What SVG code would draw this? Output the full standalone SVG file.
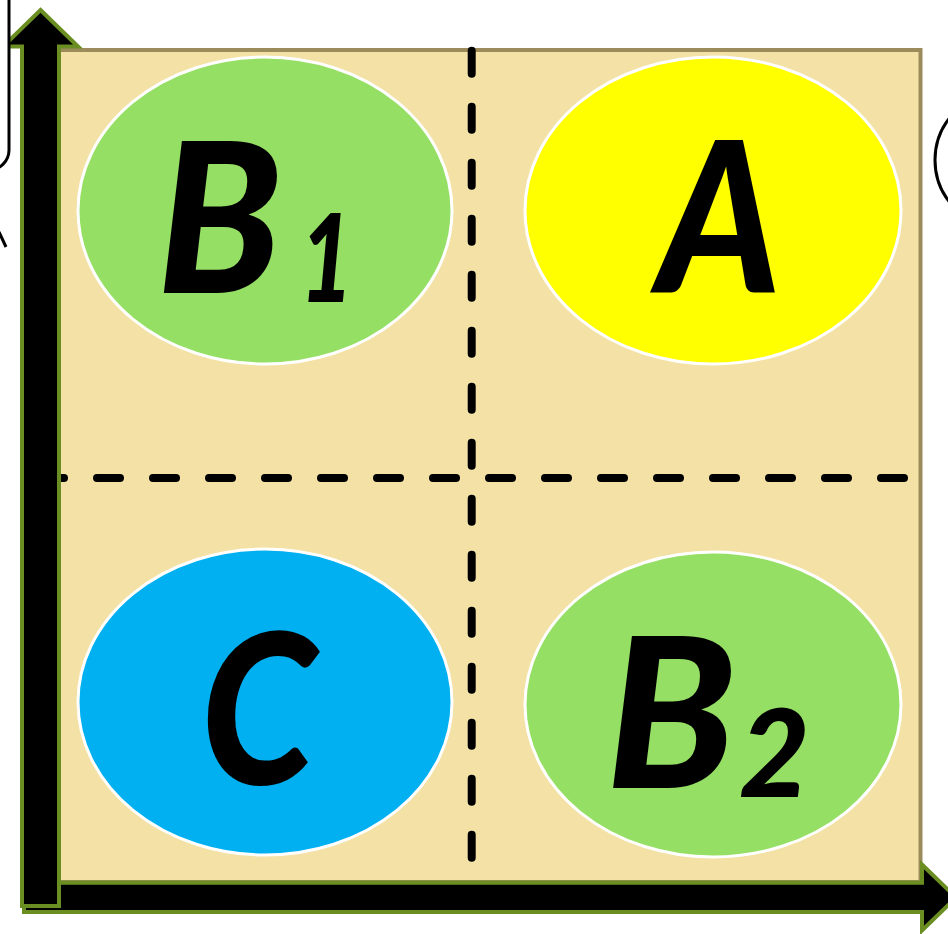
<svg xmlns="http://www.w3.org/2000/svg" width="948" height="934" viewBox="0 0 948 934">
<style>
.ell{stroke:#ffffff;stroke-width:3}
.green{fill:#95df64}
.arrow{fill:#000000;stroke:#6b8e23;stroke-width:4;stroke-linejoin:miter}
.dash{fill:none;stroke:#000000;stroke-width:8;stroke-linecap:round;stroke-dasharray:23 33}
.lbl{font-family:"Lato","Roboto","Liberation Sans",sans-serif;font-weight:900;font-style:italic;fill:#000000}
.big{font-size:210px}
.sub{font-size:122px}
.edge{fill:#ffffff;stroke:#000000;stroke-width:3}
</style>
<rect width="948" height="934" fill="#ffffff"/>
<g id="plane">
<rect x="59" y="50" width="861.5" height="832" fill="#f3e1a5" stroke="#9c8b5b" stroke-width="4"/>
</g>
<g id="connectors">
<path class="dash" d="M 41 478 H 904"/>
<path class="dash" d="M 471.7 50.7 V 858"/>
<path id="x-axis" class="arrow" d="M 24 882.7 L 922 882.7 L 922 864.5 L 956 897.5 L 922 930.5 L 922 912 L 24 912 Z"/>
<path id="y-axis" class="arrow" d="M 40.5 10 L 78 46.5 L 59 46.5 L 59 906 L 22 906 L 22 46.5 L 3 46.5 Z"/>
</g>
<g id="edge-shapes">
<rect class="edge" x="-60" y="-20" width="69" height="190" rx="20"/>
<line x1="-1" y1="232" x2="6" y2="247" stroke="#000000" stroke-width="3"/>
<circle class="edge" cx="1003" cy="160" r="68"/>
</g>
<g id="node-B1">
<ellipse class="ell green" cx="265" cy="210.5" rx="187" ry="153.5"/>
<text class="lbl big" x="157" y="293" transform="translate(157,0) scale(0.96,1) translate(-157,0)">B</text>
<text class="lbl sub" transform="translate(300,302) scale(0.75,1)">1</text>
</g>
<g id="node-A">
<ellipse class="ell" fill="#ffff00" cx="713" cy="210.5" rx="188" ry="153.5"/>
<text class="lbl big" transform="translate(658,293) scale(0.89,1)">A</text>
</g>
<g id="node-C">
<ellipse class="ell" fill="#00b0f0" cx="265" cy="702" rx="187" ry="153"/>
<text class="lbl big" transform="translate(201,784) scale(0.88,1)">C</text>
</g>
<g id="node-B2">
<ellipse class="ell green" cx="713" cy="704.5" rx="188" ry="152.5"/>
<text class="lbl big" x="606" y="788">B</text>
<text class="lbl sub" x="739" y="797">2</text>
</g>
</svg>
